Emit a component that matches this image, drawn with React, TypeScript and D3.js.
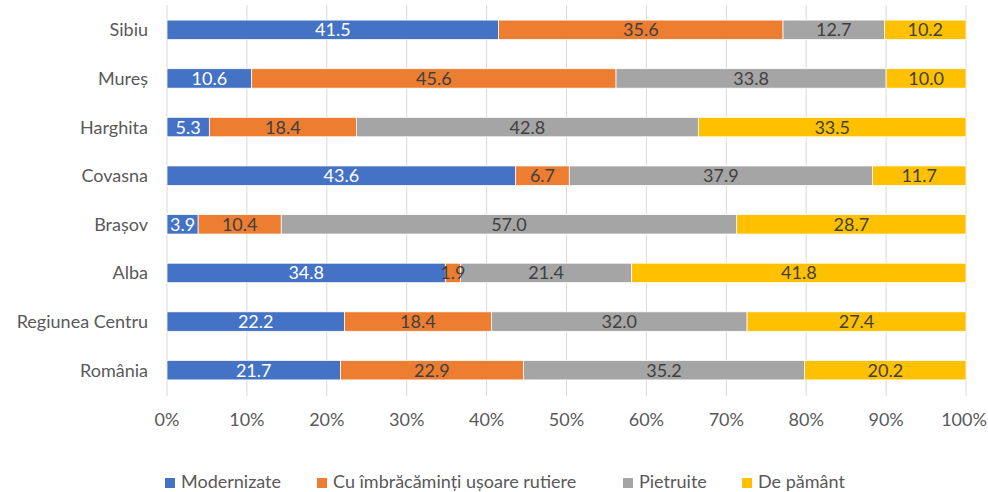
import React from "react";
import * as d3 from "d3";

const categories = ["Sibiu", "Mureș", "Harghita", "Covasna", "Brașov", "Alba", "Regiunea Centru", "România"];
const seriesNames = ["Modernizate", "Cu îmbrăcăminți ușoare rutiere", "Pietruite", "De pământ"];
const modernizate = [41.5, 10.6, 5.3, 43.6, 3.9, 34.8, 22.2, 21.7];
const usoare = [35.6, 45.6, 18.4, 6.7, 10.4, 1.9, 18.4, 22.9];
const pietruite = [12.7, 33.8, 42.8, 37.9, 57.0, 21.4, 32.0, 35.2];
const pamant = [10.2, 10.0, 33.5, 11.7, 28.7, 41.8, 27.4, 20.2];
const tickValues = [0, 0.1, 0.2, 0.3, 0.4, 0.5, 0.6, 0.7, 0.8, 0.9, 1];

const colors = ["#4472C4", "#ED7D31", "#A5A5A5", "#FFC000"];
const labelColors = ["#ffffff", "#404040", "#404040", "#404040"];
const legendX = [165, 317, 623, 742];
const font = "Lato, sans-serif";
const fs = 18;

const App = () => {
  const width = 988;
  const height = 492;

  // one row per category, values normalised to 100%
  const rows = categories.map((c, i) => {
    const vals = [modernizate[i], usoare[i], pietruite[i], pamant[i]];
    const total = d3.sum(vals);
    const row: any = { cat: c };
    seriesNames.forEach((s, k) => {
      row[s] = vals[k] / total;
      row[s + "_raw"] = vals[k];
    });
    return row;
  });

  const stacked = d3.stack().keys(seriesNames)(rows);

  const x = d3.scaleLinear().domain([0, 1]).range([167, 966]);
  const y = d3.scaleBand().domain(categories).range([5.5, 394.5]).paddingInner(0.6).paddingOuter(0.3);

  return (
    <svg width={width} height={height} style={{ position: "absolute", left: 0, top: 0, background: "#fff" }}>
      {/* gridlines */}
      {tickValues.map((t) => (
        <line key={t} x1={x(t)} x2={x(t)} y1={5} y2={396} stroke="#D9D9D9" strokeWidth={1} />
      ))}

      {/* bars */}
      {stacked.map((layer, k) => (
        <g key={layer.key} fill={colors[k]}>
          {layer.map((d: any, i) => (
            <rect
              key={i}
              x={x(d[0])}
              y={y(d.data.cat)}
              width={x(d[1]) - x(d[0])}
              height={y.bandwidth()}
              stroke="#fff"
              strokeWidth={0.75}
            />
          ))}
        </g>
      ))}

      {/* value labels */}
      {stacked.map((layer, k) => (
        <g key={"l" + layer.key}>
          {layer.map((d: any, i) => (
            <text
              key={i}
              x={(x(d[0]) + x(d[1])) / 2}
              y={(y(d.data.cat) as number) + y.bandwidth() / 2}
              dy="0.36em"
              textAnchor="middle"
              fill={labelColors[k]}
              style={{ fontFamily: font, fontSize: fs }}
            >
              {d.data[layer.key + "_raw"].toFixed(1)}
            </text>
          ))}
        </g>
      ))}

      {/* category labels */}
      {categories.map((c) => (
        <text
          key={c}
          x={148}
          y={(y(c) as number) + y.bandwidth() / 2}
          dy="0.36em"
          textAnchor="end"
          fill="#595959"
          style={{ fontFamily: font, fontSize: fs }}
        >
          {c}
        </text>
      ))}

      {/* x axis tick labels */}
      {tickValues.map((t) => (
        <text
          key={"t" + t}
          x={t === 1 ? x(t) - 2 : x(t)}
          y={420}
          dy="0.36em"
          textAnchor="middle"
          fill="#595959"
          style={{ fontFamily: font, fontSize: fs }}
        >
          {d3.format(".0%")(t)}
        </text>
      ))}

      {/* legend */}
      {seriesNames.map((s, k) => (
        <g key={"lg" + s} transform={`translate(${legendX[k]},482)`}>
          <rect x={0} y={-4} width={10} height={10} fill={colors[k]} />
          <text x={16} y={0} dy="0.36em" fill="#595959" style={{ fontFamily: font, fontSize: fs }}>
            {s}
          </text>
        </g>
      ))}
    </svg>
  );
};

export default App;
